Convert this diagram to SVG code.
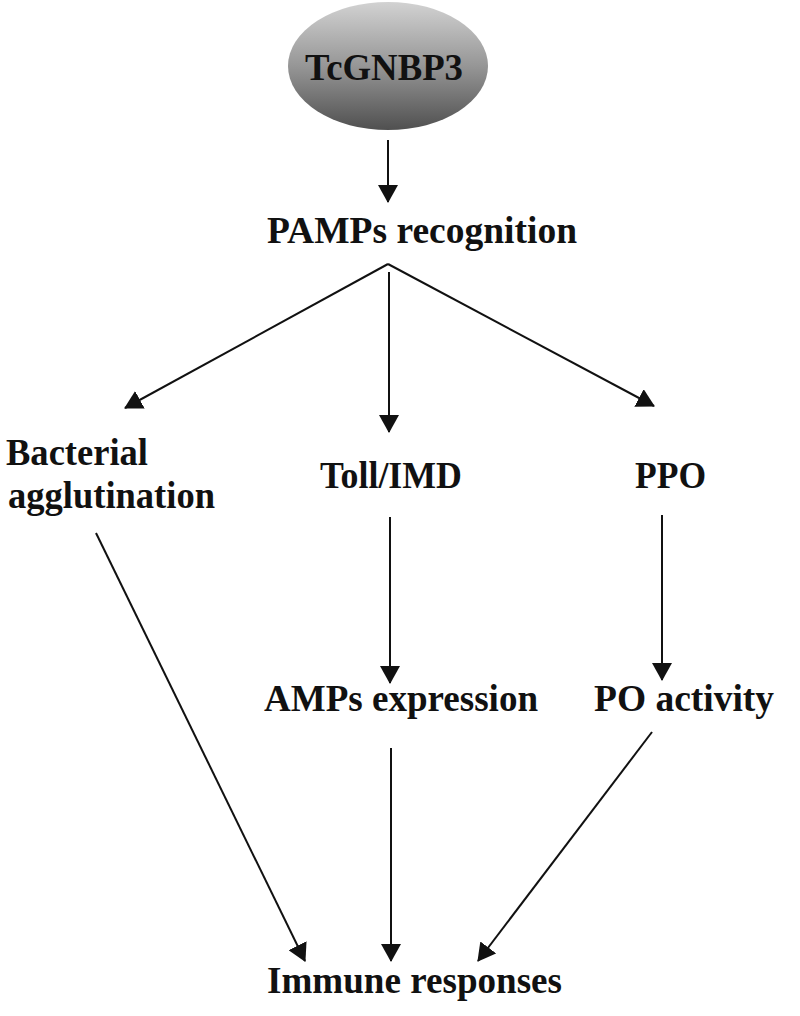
<svg xmlns="http://www.w3.org/2000/svg" width="800" height="1016" viewBox="0 0 800 1016">
<defs>
<linearGradient id="g" x1="0" y1="0" x2="0" y2="1">
<stop offset="0" stop-color="#d2d2d2"/>
<stop offset="0.5" stop-color="#969696"/>
<stop offset="1" stop-color="#505050"/>
</linearGradient>
<marker id="ah" viewBox="0 0 18 20" refX="17" refY="10" markerWidth="18" markerHeight="20" markerUnits="userSpaceOnUse" orient="auto">
<path d="M0,0 L18,10 L0,20 Z" fill="#111"/>
</marker>
<style>
text{font-family:"Liberation Serif","Times New Roman",serif;font-weight:bold;font-size:38px;fill:#111}
.c{stroke:#111;stroke-width:2;fill:none;marker-end:url(#ah)}
</style>
</defs>
<rect width="800" height="1016" fill="#fff"/>
<g id="tcgnbp3">
<ellipse cx="388" cy="66" rx="100" ry="64" fill="url(#g)"/>
<text x="305" y="80" textLength="158" lengthAdjust="spacingAndGlyphs">TcGNBP3</text>
</g>
<g id="pamps"><text x="267" y="243" textLength="310" lengthAdjust="spacingAndGlyphs">PAMPs recognition</text></g>
<g id="bact"><text x="6" y="465" textLength="142" lengthAdjust="spacingAndGlyphs">Bacterial</text><text x="8" y="508" textLength="207" lengthAdjust="spacingAndGlyphs">agglutination</text></g>
<g id="toll"><text x="320" y="488" textLength="142" lengthAdjust="spacingAndGlyphs">Toll/IMD</text></g>
<g id="ppo"><text x="635" y="488" textLength="71" lengthAdjust="spacingAndGlyphs">PPO</text></g>
<g id="amps"><text x="264" y="711" textLength="274" lengthAdjust="spacingAndGlyphs">AMPs expression</text></g>
<g id="po"><text x="594" y="711" textLength="180" lengthAdjust="spacingAndGlyphs">PO activity</text></g>
<g id="immune"><text x="267" y="993" textLength="295" lengthAdjust="spacingAndGlyphs">Immune responses</text></g>
<g id="connectors">
<line class="c" x1="388" y1="140" x2="388" y2="202"/>
<line class="c" x1="388" y1="264" x2="125" y2="408"/>
<line class="c" x1="389" y1="272" x2="389" y2="432"/>
<line class="c" x1="388" y1="264" x2="654" y2="406"/>
<line class="c" x1="390" y1="517" x2="390" y2="683"/>
<line class="c" x1="662" y1="515" x2="662" y2="680"/>
<line class="c" x1="96" y1="533" x2="305" y2="961"/>
<line class="c" x1="391" y1="748" x2="391" y2="961"/>
<line class="c" x1="652" y1="732" x2="478" y2="961"/>
</g>
</svg>
